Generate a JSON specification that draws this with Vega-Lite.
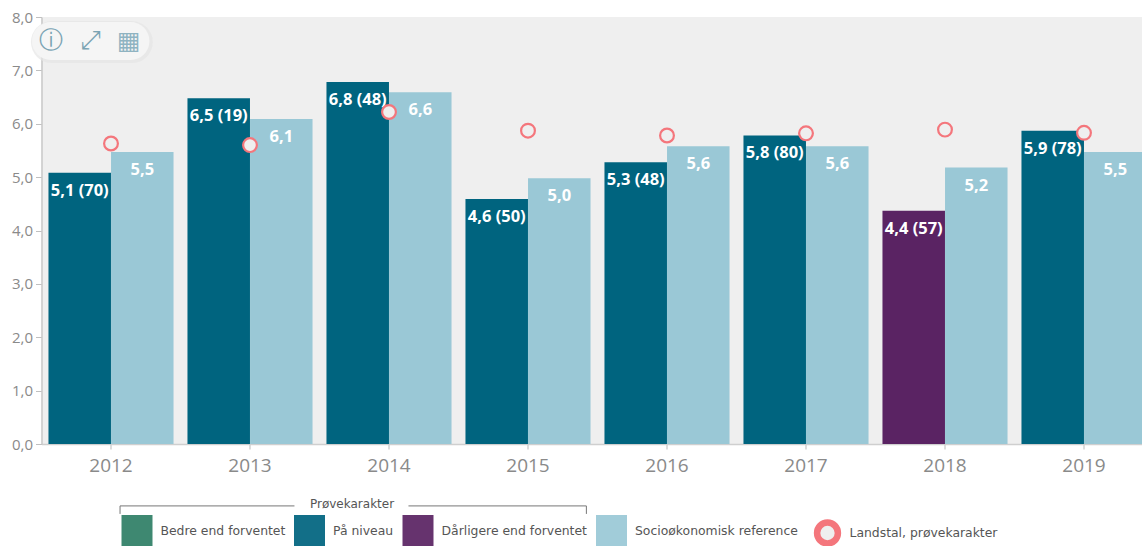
{
"$schema":"https://vega.github.io/schema/vega-lite/v6.json",
"width":1112,"height":427,
"autosize":{"type":"none"},
"padding":{"left":41.5,"top":17,"right":0,"bottom":102},
"background":"white",
"config":{"view":{"fill":"#efefef","stroke":null},"font":"Open Sans"},
"datasets":{
"bars":[
{"aar":"2012","type":"a","kategori":"På niveau","vaerdi":5.08,"tekst":"5,1 (70)"},
{"aar":"2012","type":"b","kategori":"Socioøkonomisk reference","vaerdi":5.47,"tekst":"5,5"},
{"aar":"2013","type":"a","kategori":"På niveau","vaerdi":6.48,"tekst":"6,5 (19)"},
{"aar":"2013","type":"b","kategori":"Socioøkonomisk reference","vaerdi":6.09,"tekst":"6,1"},
{"aar":"2014","type":"a","kategori":"På niveau","vaerdi":6.78,"tekst":"6,8 (48)"},
{"aar":"2014","type":"b","kategori":"Socioøkonomisk reference","vaerdi":6.59,"tekst":"6,6"},
{"aar":"2015","type":"a","kategori":"På niveau","vaerdi":4.59,"tekst":"4,6 (50)"},
{"aar":"2015","type":"b","kategori":"Socioøkonomisk reference","vaerdi":4.98,"tekst":"5,0"},
{"aar":"2016","type":"a","kategori":"På niveau","vaerdi":5.28,"tekst":"5,3 (48)"},
{"aar":"2016","type":"b","kategori":"Socioøkonomisk reference","vaerdi":5.58,"tekst":"5,6"},
{"aar":"2017","type":"a","kategori":"På niveau","vaerdi":5.78,"tekst":"5,8 (80)"},
{"aar":"2017","type":"b","kategori":"Socioøkonomisk reference","vaerdi":5.58,"tekst":"5,6"},
{"aar":"2018","type":"a","kategori":"Dårligere end forventet","vaerdi":4.37,"tekst":"4,4 (57)"},
{"aar":"2018","type":"b","kategori":"Socioøkonomisk reference","vaerdi":5.18,"tekst":"5,2"},
{"aar":"2019","type":"a","kategori":"På niveau","vaerdi":5.87,"tekst":"5,9 (78)"},
{"aar":"2019","type":"b","kategori":"Socioøkonomisk reference","vaerdi":5.47,"tekst":"5,5"}
],
"land":[
{"aar":"2012","serie":"Landstal, prøvekarakter","vaerdi":5.63},
{"aar":"2013","serie":"Landstal, prøvekarakter","vaerdi":5.6},
{"aar":"2014","serie":"Landstal, prøvekarakter","vaerdi":6.22},
{"aar":"2015","serie":"Landstal, prøvekarakter","vaerdi":5.87},
{"aar":"2016","serie":"Landstal, prøvekarakter","vaerdi":5.78},
{"aar":"2017","serie":"Landstal, prøvekarakter","vaerdi":5.82},
{"aar":"2018","serie":"Landstal, prøvekarakter","vaerdi":5.89},
{"aar":"2019","serie":"Landstal, prøvekarakter","vaerdi":5.83}
]
},
"resolve":{"scale":{"x":"independent"},"axis":{"x":"independent"}},
"layer":[
{"layer":[
{"data":{"name":"bars"},
 "mark":{"type":"bar","size":62.5},
 "encoding":{
  "x":{"field":"aar","type":"nominal","title":null,
    "scale":{"paddingInner":0.1,"paddingOuter":0.05},
    "axis":{"labelAngle":0,"labelFontSize":19,"labelColor":"#8a8a8a","labelFont":"Open Sans","labelPadding":7,"domainColor":"#cfcfcf","domainWidth":1.5,"tickColor":"#bbbbbb","tickSize":5,"grid":false}},
  "xOffset":{"field":"type","type":"nominal","scale":{"domain":["a","b"],"paddingInner":0,"paddingOuter":0}},
  "y":{"field":"vaerdi","type":"quantitative","title":null,
    "scale":{"domain":[0,8]},
    "axis":{"values":[0,1,2,3,4,5,6,7,8],"grid":false,"labelExpr":"replace(format(datum.value,'.1f'),'.',',')","labelFontSize":15,"labelColor":"#8a8a8a","labelPadding":3,"domainColor":"#c8c8c8","domainWidth":1.5,"tickColor":"#c0c0c0","tickSize":6}},
  "color":{"field":"kategori","type":"nominal",
    "scale":{"domain":["Bedre end forventet","På niveau","Dårligere end forventet","Socioøkonomisk reference"],"range":["#2f7f66","#00647f","#5a2363","#9ac8d6"]},
    "legend":{"orient":"none","legendX":80,"legendY":498,"title":null,"columns":4,"gridAlign":"none","symbolType":"square","symbolSize":961,"symbolStrokeWidth":0,"symbolOpacity":0.93,"labelFont":"DejaVu Sans","labelFontSize":12.4,"labelColor":"#555555","labelOffset":8,"columnPadding":8.5,"labelLimit":220}}
 }},
{"data":{"name":"bars"},
 "mark":{"type":"text","color":"white","fontWeight":"bold","fontSize":16.5,"baseline":"middle","dy":18},
 "encoding":{
  "x":{"field":"aar","type":"nominal"},
  "xOffset":{"field":"type","type":"nominal"},
  "y":{"field":"vaerdi","type":"quantitative"},
  "text":{"field":"tekst"}
 }},
{"data":{"name":"land"},
 "mark":{"type":"point","filled":false,"fill":"#efefef","fillOpacity":1,"strokeWidth":2.2,"size":190,"shape":"circle","opacity":1},
 "encoding":{
  "x":{"field":"aar","type":"nominal"},
  "y":{"field":"vaerdi","type":"quantitative"},
  "stroke":{"field":"serie","type":"nominal",
    "scale":{"range":["#f4767c"]},
    "legend":{"orient":"none","legendX":772,"legendY":502,"title":null,"symbolType":"circle","symbolSize":434,"symbolStrokeWidth":6.5,"symbolFillColor":"#ffffff","labelFont":"DejaVu Sans","labelFontSize":12.4,"labelColor":"#555555","labelOffset":8,"labelLimit":220}}
 }}
]},
{"data":{"values":[{}]},
 "encoding":{
  "x":{"datum":2012.065,"type":"quantitative","title":null,"axis":null,"scale":{"domain":[2011.5,2019.5],"nice":false,"zero":false}},
  "y":{"datum":-1.16,"type":"quantitative","scale":{"domain":[0,8]}}
 },
 "layer":[
  {"mark":{"type":"rule","color":"#777777","strokeWidth":1},"encoding":{"x2":{"datum":2013.32}}},
  {"mark":{"type":"rule","color":"#777777","strokeWidth":1},"encoding":{"x":{"datum":2014.14,"type":"quantitative","axis":null,"scale":{"domain":[2011.5,2019.5],"nice":false,"zero":false}},"x2":{"datum":2015.42}}},
  {"mark":{"type":"rule","color":"#777777","strokeWidth":1},"encoding":{"y2":{"datum":-1.31}}},
  {"mark":{"type":"rule","color":"#777777","strokeWidth":1},"encoding":{"x":{"datum":2015.42,"type":"quantitative","axis":null,"scale":{"domain":[2011.5,2019.5],"nice":false,"zero":false}},"y2":{"datum":-1.31}}},
  {"mark":{"type":"text","text":"Prøvekarakter","font":"DejaVu Sans","fontSize":12,"color":"#555555","baseline":"middle"},"encoding":{"x":{"datum":2013.734,"type":"quantitative","axis":null,"scale":{"domain":[2011.5,2019.5],"nice":false,"zero":false}},"y":{"datum":-1.13,"type":"quantitative","scale":{"domain":[0,8]}}}},
  {"mark":{"type":"rule","color":"#e6e6e6","opacity":0.7,"strokeWidth":42,"strokeCap":"round"},"encoding":{"x":{"datum":2011.575,"type":"quantitative","axis":null,"scale":{"domain":[2011.5,2019.5],"nice":false,"zero":false}},"x2":{"datum":2012.15},"y":{"datum":7.53,"type":"quantitative","scale":{"domain":[0,8]}}}},
  {"mark":{"type":"rule","color":"#f5f5f5","strokeWidth":38,"strokeCap":"round"},"encoding":{"x":{"datum":2011.568,"type":"quantitative","axis":null,"scale":{"domain":[2011.5,2019.5],"nice":false,"zero":false}},"x2":{"datum":2012.14},"y":{"datum":7.55,"type":"quantitative","scale":{"domain":[0,8]}}}},
  {"mark":{"type":"text","text":"ⓘ","font":"DejaVu Sans","fontSize":24,"color":"#7aa3b3","baseline":"middle"},"encoding":{"x":{"datum":2011.568,"type":"quantitative","axis":null,"scale":{"domain":[2011.5,2019.5],"nice":false,"zero":false}},"y":{"datum":7.55,"type":"quantitative","scale":{"domain":[0,8]}}}},
  {"mark":{"type":"text","text":"⤢","font":"DejaVu Sans","fontSize":26,"color":"#7aa3b3","baseline":"middle"},"encoding":{"x":{"datum":2011.849,"type":"quantitative","axis":null,"scale":{"domain":[2011.5,2019.5],"nice":false,"zero":false}},"y":{"datum":7.55,"type":"quantitative","scale":{"domain":[0,8]}}}},
  {"mark":{"type":"text","text":"▦","font":"DejaVu Sans","fontSize":25,"color":"#8fb3c1","baseline":"middle"},"encoding":{"x":{"datum":2012.129,"type":"quantitative","axis":null,"scale":{"domain":[2011.5,2019.5],"nice":false,"zero":false}},"y":{"datum":7.55,"type":"quantitative","scale":{"domain":[0,8]}}}}
 ]}
]
}
